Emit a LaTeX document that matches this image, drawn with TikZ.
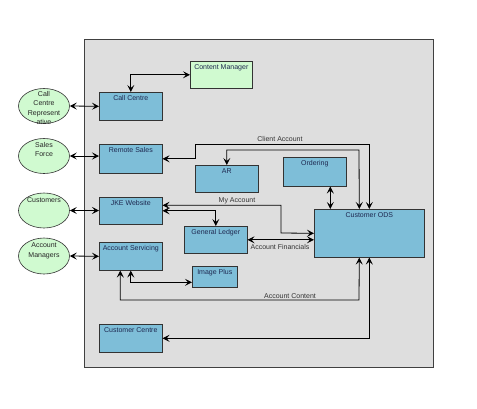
\documentclass[tikz,border=0pt]{standalone}
\usepackage{fontspec}
\setmainfont{Liberation Sans}
\usetikzlibrary{arrows.meta,shapes.geometric}
\definecolor{boxblue}{RGB}{126,190,216}
\definecolor{paleg}{RGB}{208,250,208}
\definecolor{bggray}{RGB}{222,222,222}
\definecolor{navytxt}{RGB}{30,40,80}
\tikzset{
  box/.style={draw=black!80, line width=0.6pt, fill=boxblue, anchor=north west, inner sep=0pt},
  gbox/.style={box, fill=paleg},
  btxt/.style={anchor=north, inner sep=3.5pt, text=navytxt, font=\fontsize{7}{8}\selectfont},
  actor/.style={ellipse, draw=black!80, line width=0.6pt, fill=paleg, minimum width=51pt, inner sep=0pt},
  atxt/.style={anchor=north, inner sep=4pt, align=center, text=black!85, font=\fontsize{7}{9.3}\selectfont},
  tipx/.tip={Stealth[length=7pt,width=7pt,inset=3pt]},
  conn/.style={line width=0.8pt, tipx-tipx},
  elab/.style={text=black!80, font=\fontsize{7}{8}\selectfont, inner sep=0pt}
}
\begin{document}
\begin{tikzpicture}[x=1pt,y=-1pt]
\useasboundingbox (0,0) rectangle (477,408);
\fill[white] (0,0) rectangle (477,408);
\draw[fill=bggray, draw=black!75, line width=0.8pt] (84,39) rectangle (433,367);

% boxes
\node[gbox, minimum width=62pt, minimum height=27pt, label={[btxt]north:Content Manager}] (cm) at (190,61) {};
\node[box, minimum width=63pt, minimum height=28pt, label={[btxt]north:Call Centre}] (cc) at (99,92) {};
\node[box, minimum width=63pt, minimum height=29pt, label={[btxt]north:Remote Sales}] (rs) at (99,144) {};
\node[box, minimum width=63pt, minimum height=27pt, label={[btxt]north:JKE Website}] (jke) at (99,197) {};
\node[box, minimum width=63pt, minimum height=28pt, label={[btxt]north:Account Servicing}] (as) at (99,242) {};
\node[box, minimum width=63pt, minimum height=28pt, label={[btxt]north:Customer Centre}] (custc) at (99,324) {};
\node[box, minimum width=63pt, minimum height=27pt, label={[btxt]north:AR}] (ar) at (195,165) {};
\node[box, minimum width=63pt, minimum height=29pt, label={[btxt]north:Ordering}] (ord) at (283,157) {};
\node[box, minimum width=63pt, minimum height=27pt, label={[btxt]north:General Ledger}] (gl) at (184,226) {};
\node[box, minimum width=45pt, minimum height=21pt, label={[btxt]north:Image Plus}] (ip) at (192,266) {};
\node[box, minimum width=110pt, minimum height=48pt, label={[btxt]north:Customer ODS}] (ods) at (314,209) {};

% actors
\node[actor, minimum height=35pt, label={[atxt, inner sep=3pt]north:Call\\Centre\\Represent\\ative}] (ccr) at (44,106) {};
\node[actor, minimum height=35pt, label={[atxt]north:Sales\\Force}] (sf) at (44,156) {};
\node[actor, minimum height=35pt, label={[atxt, inner sep=5pt]north:Customers}] (cust) at (44,210.5) {};
\node[actor, minimum height=36pt, label={[atxt, inner sep=5pt]north:Account\\Managers}] (am) at (44,256) {};

% actor connectors
\draw[conn] (ccr.east) -- (cc.west);
\draw[conn] (sf.east) -- (sf.east -| rs.west);
\draw[conn] (cust.east) -- (cust.east -| jke.west);
\draw[conn] (am.east) -- (as.west);

% internal connectors
\draw[conn] (cm.west) -| (cc.north);
\draw[conn] (rs.east) -| (195,144) -| (ods.north);
\node[elab] (lca) at (280,139) {Client Account};
\draw[conn] (ar.north) |- (359,150) -- ([xshift=-10pt]ods.north);
\draw[conn] ([xshift=15.5pt]ord.south) -- ([xshift=15.5pt]ord.south |- ods.north);
\draw[conn] ([yshift=5.5pt]jke.east) -| (281,233) -- (ods.west);
\node[elab] (lma) at (237,201) {My Account};
\draw[conn] (jke.east) -| (gl.north);
\draw[conn] (gl.east) -- (gl.east -| ods.west);
\node[elab] (laf) at (280,247) {Account Financials};
\draw[conn] ([xshift=-10.5pt]as.south) |- (359,300) -- ([xshift=-10pt]ods.south);
\node[elab] (lac) at (290,296) {Account Content};
\draw[conn] (as.south) |- ([yshift=-5.5pt]ip.west);
\draw[conn] (custc.east) -| (ods.south);
\end{tikzpicture}
\end{document}
